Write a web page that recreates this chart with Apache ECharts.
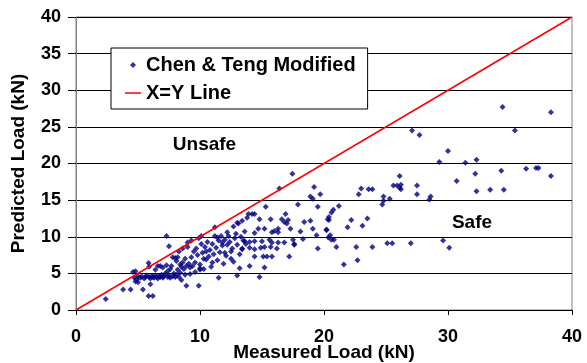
<!DOCTYPE html>
<html><head><meta charset="utf-8">
<script src="https://cdn.jsdelivr.net/npm/echarts@6/dist/echarts.min.js"></script>
<style>html,body{margin:0;padding:0;background:#fff}#c{width:587px;height:363px}</style>
</head><body><div id="c"></div>
<script>
// Series names
const scatterName = 'Chen & Teng Modified';
const lineName = 'X=Y Line';
const xAxisName = 'Measured Load (kN)';
const yAxisName = 'Predicted Load (kN)';
// Measured vs predicted load points [measured, predicted] (kN), grouped by region
const ptsA = [[2.4,1.5],[3.8,2.8],[4.4,2.8],[4.6,5.2],[4.7,4.4],[4.8,3.9],[4.8,5.3],[4.9,4.2],[5.0,3.8],[5.0,4.6]];
const ptsB = [[5.2,4.4],[5.3,4.6],[5.4,2.8],[5.5,4.3],[5.6,4.5],[5.7,4.7],[5.85,6.4],[5.85,1.9],[5.9,4.5],[5.9,5.9],[6.0,3.5],[6.0,4.3],[6.1,4.6],[6.2,1.9],[6.2,4.5],[6.3,4.4],[6.4,4.7],[6.5,4.5],[6.6,6.0],[6.6,4.3],[6.7,4.6],[6.8,6.0],[6.8,4.5],[6.9,4.8],[7.0,4.4],[7.1,4.6],[7.2,5.0],[7.3,6.1],[7.3,10.1],[7.4,4.5],[7.5,8.7],[7.5,4.7],[7.6,4.4],[7.7,6.0],[7.8,4.6],[7.8,7.2],[7.9,5.0],[8.0,7.1],[8.0,4.5],[8.1,6.7],[8.1,4.8],[8.2,7.2],[7.6,5.6],[7.0,5.8],[6.4,5.5],[7.4,5.3],[8.2,5.5]];
const ptsC = [[8.3,4.5],[8.4,6.2],[8.5,4.1],[8.5,5.9],[8.6,8.4],[8.6,6.5],[8.7,5.6],[8.8,7.0],[8.9,3.3],[8.9,6.0],[9.0,8.6],[9.1,6.3],[9.2,5.8],[9.3,9.5],[9.3,7.2],[9.4,6.0],[9.5,8.0],[9.6,6.5],[9.7,8.4],[9.8,7.5],[9.9,3.3],[9.9,9.8],[8.4,5.1],[8.8,4.8],[9.2,4.9],[9.6,5.2],[10.0,5.5],[9.0,9.2],[8.3,8.0]];
const ptsD = [[10.0,6.2],[10.1,10.1],[10.1,9.0],[10.2,7.8],[10.3,5.6],[10.4,8.6],[10.5,6.9],[10.6,9.3],[10.7,7.3],[10.8,8.2],[10.9,5.9],[11.0,9.0],[11.1,7.6],[11.2,11.3],[11.2,10.1],[11.3,8.5],[11.4,6.8],[11.5,4.4],[11.5,9.5],[11.6,7.9],[11.7,10.1],[11.8,8.8],[11.9,6.3],[12.0,9.6],[12.1,7.4],[12.2,8.9],[12.3,10.1],[12.4,9.3],[12.5,7.0],[12.6,8.4],[12.7,6.6],[12.7,11.4],[12.8,9.8],[12.9,10.4],[13.0,4.7],[13.0,11.9],[13.0,8.9],[13.1,11.8],[13.2,7.6],[13.4,12.2],[13.5,9.5],[13.6,10.7],[13.8,12.6],[13.9,13.1],[10.5,8.0],[11.0,6.5],[11.8,9.2],[12.2,10.6],[12.5,8.0],[13.3,10.0],[10.3,7.0],[11.4,9.9],[12.0,7.8],[13.4,8.3],[13.7,9.0],[10.0,5.7],[13.2,5.7]];
const ptsE = [[14.2,13.1],[14.4,13.1],[14.8,12.4],[15.7,12.4],[16.9,13.1],[16.6,12.4],[16.8,12.0],[17.0,11.8],[17.1,12.3],[16.3,11.1],[17.3,11.1],[18.4,12.0],[18.9,12.2],[20.4,12.3],[19.1,11.1],[20.2,10.9],[18.1,10.7],[14.4,10.5],[14.7,11.1],[15.2,11.1],[15.8,10.6],[16.0,10.8],[16.3,10.6],[13.6,9.4],[14.0,9.3],[14.4,9.4],[15.0,9.4],[15.6,9.6],[15.8,9.2],[16.3,9.2],[16.8,9.2],[17.5,9.6],[17.6,9.0],[18.3,9.7],[17.6,8.9],[19.4,10.2],[20.5,10.2],[14.0,8.5],[14.4,8.3],[14.9,8.5],[15.2,8.6],[15.7,8.6],[16.2,8.4],[13.4,8.4],[19.5,8.4],[14.4,7.3],[15.1,7.3],[15.4,7.3],[15.8,7.3],[17.2,7.3],[14.0,6.0],[15.2,5.8],[14.8,4.5],[17.45,18.6],[16.4,16.6],[15.3,14.1],[19.2,16.8],[18.9,15.5],[19.7,15.8],[19.1,15.2],[17.9,14.4],[19.5,14.1]];
const ptsF = [[26.1,18.3],[25.6,17.0],[25.9,17.0],[26.1,16.7],[26.2,16.5],[26.2,17.1],[27.5,17.0],[27.5,15.8],[23.0,16.6],[22.8,15.8],[23.6,16.5],[23.9,16.5],[24.8,15.5],[25.3,15.2],[24.8,14.9],[24.7,14.4],[28.6,15.5],[28.5,15.1],[21.2,14.2],[20.75,13.7],[20.6,13.3],[20.4,12.7],[20.3,12.4],[22.2,12.3],[21.9,11.3],[23.5,12.5],[23.1,11.5],[20.2,11.0],[20.35,9.9],[20.6,9.6],[20.8,9.6],[21.0,8.6],[22.6,8.6],[23.9,8.6],[25.1,9.1],[25.5,9.1],[27.0,9.1],[22.7,6.8],[21.6,6.2],[27.1,24.5],[27.7,23.9],[29.3,20.2]];
const ptsG = [[30.0,21.7],[31.4,20.1],[32.3,20.5],[32.2,18.6],[30.7,17.6],[34.3,19.0],[36.3,19.3],[37.1,19.4],[37.3,19.4],[38.3,18.3],[32.3,16.2],[33.4,16.4],[34.5,16.4],[29.6,9.5],[30.1,8.5],[34.4,27.7],[38.3,27.0],[35.4,24.5]];
// X=Y reference line
const lineX = [0, 40];
const lineY = [0, 40];

const FONT = '"Liberation Sans", Arial, Helvetica, sans-serif';
const scatterData = [].concat(ptsA, ptsB, ptsC, ptsD, ptsE, ptsF, ptsG);
const lineData = lineX.map((x, i) => [x, lineY[i]]);

const chart = echarts.init(document.getElementById('c'), null, {renderer: 'canvas'});
chart.setOption({
  animation: false,
  backgroundColor: '#fff',
  grid: {left: 76, right: 15, top: 17, bottom: 53, show: true, borderColor: '#808080', borderWidth: 1,
         containLabel: false, outerBoundsMode: 'none'},
  xAxis: {
    type: 'value', min: 0, max: 40, interval: 10,
    name: xAxisName, nameLocation: 'middle', nameGap: 33, nameMoveOverlap: false,
    nameTextStyle: {fontSize: 19, fontWeight: 'bold', color: '#000', fontFamily: FONT},
    axisLine: {show: true, lineStyle: {color: '#000', width: 1}},
    axisTick: {show: true, length: 5, inside: false, lineStyle: {color: '#000'}},
    axisLabel: {fontSize: 18, fontWeight: 'bold', color: '#000', margin: 18, fontFamily: FONT},
    splitLine: {show: false}
  },
  yAxis: {
    type: 'value', min: 0, max: 40, interval: 5,
    name: yAxisName, nameLocation: 'middle', nameGap: 48, nameRotate: 90, nameMoveOverlap: false,
    nameTextStyle: {fontSize: 19, fontWeight: 'bold', color: '#000', fontFamily: FONT},
    axisLine: {show: true, lineStyle: {color: '#808080', width: 1}},
    axisTick: {show: true, length: 8, inside: false, lineStyle: {color: '#000'}},
    axisLabel: {fontSize: 18, fontWeight: 'bold', color: '#000', margin: 15, fontFamily: FONT},
    splitLine: {show: true, lineStyle: {color: '#000', width: 1}}
  },
  legend: {
    orient: 'vertical', left: 111, top: 48,
    padding: [7, 12, 6, 14], itemGap: 8, itemWidth: 16, itemHeight: 6,
    backgroundColor: '#fff', borderColor: '#000', borderWidth: 1, borderRadius: 0,
    textStyle: {fontSize: 20, fontWeight: 'bold', color: '#000', fontFamily: FONT},
    data: [
      {name: scatterName, icon: 'path://M3,0L6,3L3,6L0,3Z'},
      {name: lineName, icon: 'path://M0,0H16V1.5H0Z'}
    ]
  },
  series: [
    {type: 'scatter', name: scatterName, data: scatterData, symbol: 'diamond', symbolSize: 6,
     itemStyle: {color: '#000080'}, z: 2},
    {type: 'line', name: lineName, data: lineData, symbol: 'none', showSymbol: false,
     lineStyle: {color: '#ff0000', width: 1.5}, itemStyle: {color: '#ff0000'}, z: 3}
  ],
  graphic: [
    {type: 'text', x: 204.5, y: 145, style: {text: 'Unsafe', font: 'bold 19px ' + FONT, fill: '#000', align: 'center', verticalAlign: 'middle', textAlign: 'center', textVerticalAlign: 'middle'}},
    {type: 'text', x: 472, y: 222.5, style: {text: 'Safe', font: 'bold 19px ' + FONT, fill: '#000', align: 'center', verticalAlign: 'middle', textAlign: 'center', textVerticalAlign: 'middle'}}
  ]
});
</script></body></html>
